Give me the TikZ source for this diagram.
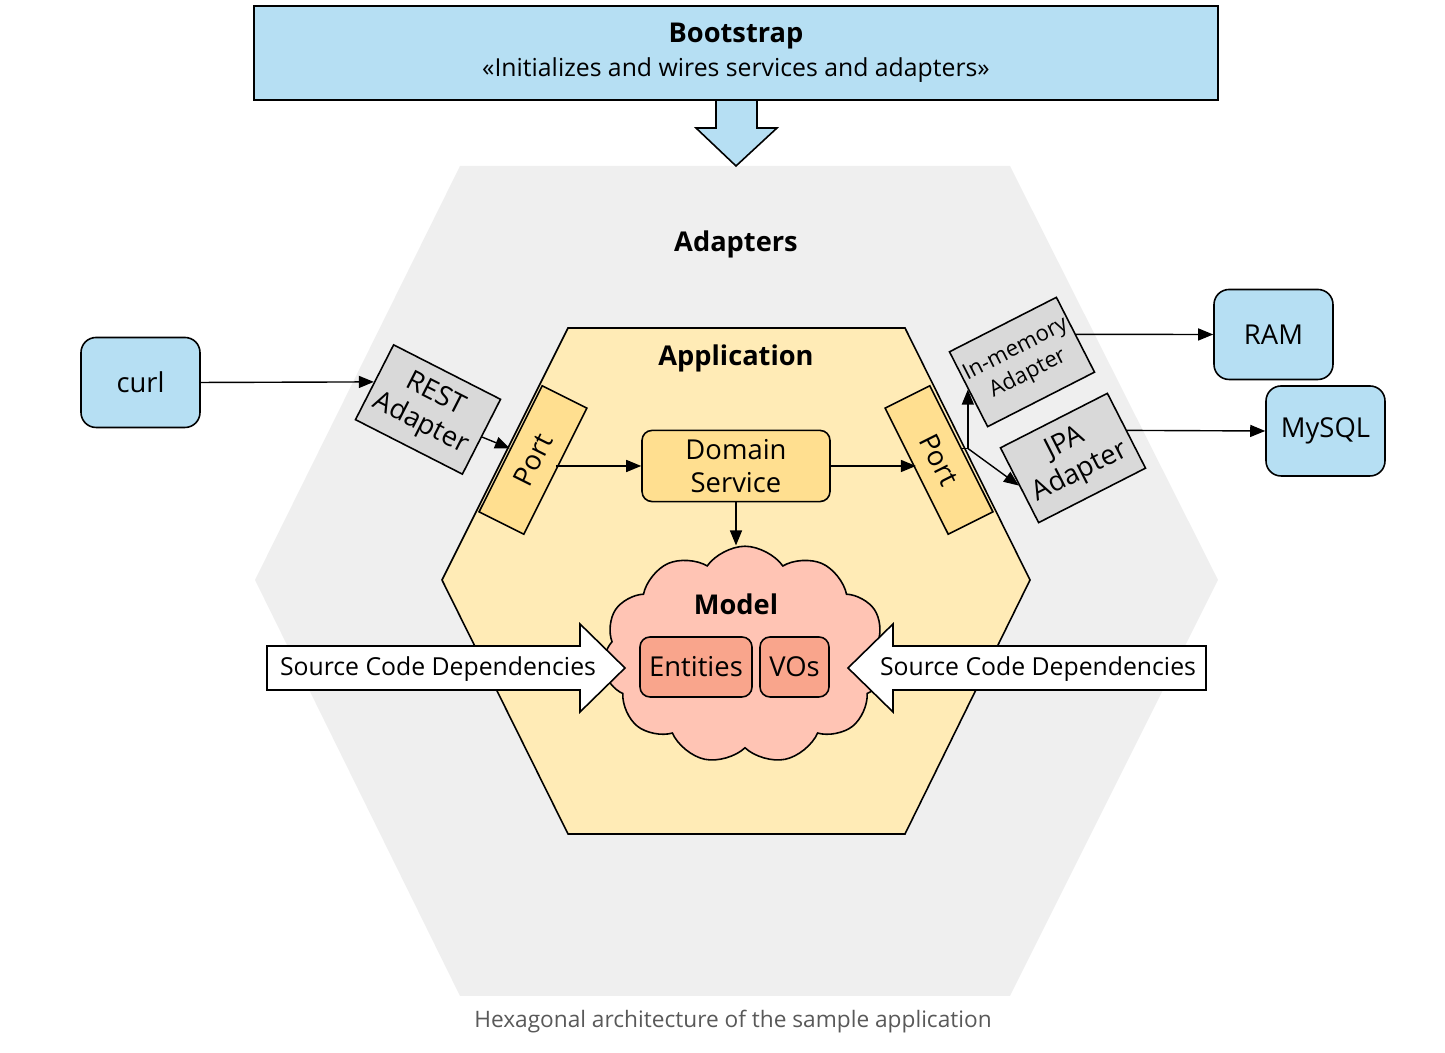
\documentclass[tikz,border=0pt]{standalone}
\usepackage{fontspec}
\setmainfont{Open Sans}
\usetikzlibrary{arrows.meta}
\usetikzlibrary{shapes.symbols}
\usetikzlibrary{calc}
\definecolor{sky}{HTML}{B6DFF3}
\definecolor{shell}{HTML}{EFEFEF}
\definecolor{core}{HTML}{FFEBB6}
\definecolor{portc}{HTML}{FFDF90}
\definecolor{adapt}{HTML}{D9D9D9}
\definecolor{cloudc}{HTML}{FFC4B4}
\definecolor{domc}{HTML}{F9A58C}
\definecolor{capc}{HTML}{595959}
\tikzset{flow/.style = {-{Triangle[length=3mm,width=2.4mm]}, line width=0.8pt},
         edge/.style = {line width=0.9pt},
         extbox/.style = {draw, edge, fill=sky, rounded corners=0.3cm,
                          minimum width=2.38cm, minimum height=1.8cm},
         adapterbox/.style = {draw, edge, fill=adapt, align=center, inner sep=1pt,
                              minimum width=2.4cm, minimum height=1.68cm},
         portbox/.style = {draw, edge, fill=portc, minimum width=2.82cm, minimum height=1cm},
         domainbox/.style = {draw, edge, fill=domc, rounded corners=0.2cm, minimum height=1.2cm},
         title/.style = {font=\fontsize{15.5}{18}\selectfont\bfseries},
         note/.style = {font=\fontsize{14.1}{17}\selectfont}}

\begin{document}
\begin{tikzpicture}[x=0.02cm, y=0.02cm]
      \fontsize{15.6}{18.5}\selectfont
      \useasboundingbox (0, 0) rectangle (1445, 1053);

      % hexagons
      \fill [shell] (460, 887) -- (1010, 887) -- (1218, 473) -- (1010, 57) -- (460, 57) -- (255, 473) -- cycle;
      \draw [edge, fill=core] (568, 725) -- (905, 725) -- (1030, 473) -- (905, 219) -- (568, 219) -- (442, 473) -- cycle;
      \node [title] (adapters) at (736, 809) {Adapters};
      \node [title] (application) at (736, 695) {Application};

      % bootstrap
      \draw [edge, fill=sky] (716, 953) -- (716, 925) -- (696, 925) -- (736, 887) -- (777, 925) -- (757, 925) -- (757, 953);
      \draw [edge, fill=sky] (254, 953) rectangle (1218, 1047);
      \node [title] (boot) at (736, 1017) {Bootstrap};
      \node [note] (bootnote) at (736, 983) {«Initializes and wires services and adapters»};

      % ports and service
      \node [portbox, rotate=63.4] (lport) at (533, 593) {Port};
      \node [portbox, rotate=-63.4] (rport) at (939, 593) {Port};
      \node [draw, edge, fill=portc, rounded corners=0.2cm, align=center,
             minimum width=3.76cm, minimum height=1.4cm] (ds) at (736, 587) {Domain\\Service};

      % model
      \node [cloud, cloud puffs=11, cloud puff arc=110, aspect=1.35, draw, edge, fill=cloudc,
             minimum width=5.7cm, minimum height=4.35cm] (model) at (745, 398) {};
      \node [title] (modeltitle) at (736, 449) {Model};
      \node [domainbox, minimum width=2.12cm] (entities) at (696, 386) {Entities};
      \node [domainbox, minimum width=1.38cm] (vos) at (794.5, 386) {VOs};

      % source code dependencies
      \draw [edge, fill=white] (267, 407) -- (580, 407) -- (580, 429) -- (625, 385) -- (580, 341) -- (580, 363) -- (267, 363) -- cycle;
      \node [note] (depleft) at (438, 384) {Source Code Dependencies};
      \draw [edge, fill=white] (1206, 407) -- (893, 407) -- (893, 429) -- (848, 385) -- (893, 341) -- (893, 363) -- (1206, 363) -- cycle;
      \node [note] (depright) at (1038, 384) {Source Code Dependencies};

      % adapters and outside world
      \node [extbox] (curl) at (140.5, 670.5) {curl};
      \node [adapterbox, rotate=-27] (rest) at (428, 643.5) {REST\\Adapter};
      \node [adapterbox, rotate=27, font=\fontsize{12.6}{15.5}\selectfont] (mem) at (1022, 691) {In-memory\\Adapter};
      \node [adapterbox, rotate=27] (jpa) at (1073, 595) {JPA\\Adapter};
      \node [extbox] (ram) at (1273.5, 718.5) {RAM};
      \node [extbox] (mysql) at (1325.5, 622) {MySQL};

      \draw [flow] (curl.east) -- (rest.west);
      \draw [flow] (rest.east) -- (lport.north);
      \draw [flow] (lport.south |- ds.west) -- (ds.west);
      \draw [flow] (ds.east) -- (ds.east -| rport.south);
      \draw [flow] (ds.south) -- (ds.south |- model.north);
      \coordinate (fork) at (mem.west |- rport.north);
      \draw [edge] (rport.north) -- (fork);
      \draw [flow] (fork) -- (mem.west);
      \draw [flow] (fork) -- (jpa.west);
      \draw [flow] (mem.east) -- (ram.west);
      \draw [flow] (jpa.east) -- (mysql.west);

      \node [text=capc, font=\fontsize{12.9}{15}\selectfont] (caption) at (733, 31) {Hexagonal architecture of the sample application};
    \end{tikzpicture}
\end{document}
